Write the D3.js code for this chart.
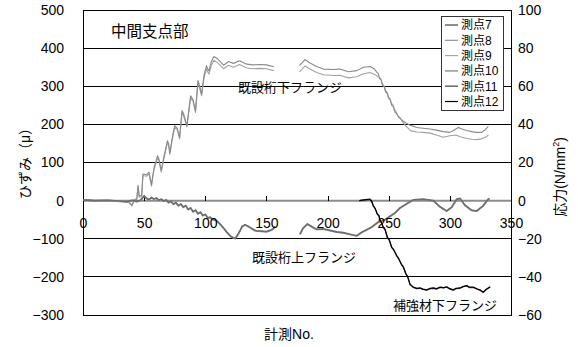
<!DOCTYPE html>
<html>
<head>
<meta charset="utf-8">
<script src="https://cdn.jsdelivr.net/npm/d3@7/dist/d3.min.js"></script>
<style>
  html, body { margin: 0; padding: 0; background: #fff; }
  svg { display: block; font-family: "Liberation Sans", "Noto Sans CJK JP", sans-serif; }
  .domain { display: none; }
</style>
</head>
<body>
<svg id="chart" width="578" height="347"></svg>
<script>
// Measurement number ranges and axis ticks
const xTicks = [0, 50, 100, 150, 200, 250, 300, 350];
const strainTicks = [-300, -200, -100, 0, 100, 200, 300, 400, 500];
const stressTicks = [-60, -40, -20, 0, 20, 40, 60, 80, 100];
const gridValues = [-200, -100, 100, 200, 300, 400];

const seriesNames = ["測点7", "測点8", "測点9", "測点10", "測点11", "測点12"];
const seriesColors = ["#404040", "#8a8a8a", "#a2a2a2", "#9a9a9a", "#6e6e6e", "#000000"];
const seriesWidths = [1.2, 1.1, 1.1, 1.6, 1.6, 1.2];

// strain readings [measurement No., μ]; null splits a gap in the record
const p8 = [[0,3],[8,1],[16,0],[24,-1],[32,0],[37,-2],[40,-12],[42,3],[44,5],[45,40],[46,12],[48,14],[49,70],[52,68],[54,75],[56,42],[58,85],[61,118],[62,110],[64,79],[66,112],[69,157],[70,150],[71,125],[73,165],[75,197],[77,190],[79,166],[81,236],[82,230],[85,197],[87,250],[88,275],[90,265],[92,236],[94,315],[95,305],[97,280],[99,330],[101,354],[102,345],[103,340],[105,365],[107,378],[110,372],[113,362],[115,355],[119,365],[123,360],[128,367],[134,358],[139,356],[145,357],[150,356],[156,351],
  null,
  [177,354],[181.5,370],[185.6,361],[191,352],[196.5,345],[204.7,344],[210,345],[217,338],[223.8,341],[229.3,350],[234.7,352],[238,346],[240.2,337],[241.5,333],[242.5,320],[244,316],[245,302],[246.5,298],[247.5,285],[249,281],[250,268],[251.5,263],[252.5,250],[254,246],[255,233],[256.5,228],[258,220],[260,214],[262,208],[265,202],[267.4,198],[272.9,192],[278,190],[283.8,188],[289,185],[294.6,181],[300,179],[303,184],[306.9,192],[310,188],[313.8,184],[318,181],[322,179],[326,179],[329,186],[331.5,195]];

const p9 = [[0,2],[8,0],[16,-1],[24,0],[32,-1],[37,-3],[40,-14],[42,1],[44,3],[45,36],[46,9],[48,11],[49,66],[52,64],[54,70],[56,38],[58,80],[61,113],[62,106],[64,75],[66,108],[69,152],[70,146],[71,121],[73,160],[75,192],[77,186],[79,162],[81,230],[82,225],[85,193],[87,245],[88,270],[90,260],[92,231],[94,308],[95,299],[97,275],[99,323],[101,346],[102,337],[103,332],[105,356],[107,368],[110,362],[113,352],[115,346],[119,355],[123,350],[128,357],[134,348],[139,346],[145,347],[150,346],[156,341],
  null,
  [177,338],[181.5,353],[185.6,345],[191,336],[196.5,330],[204.7,328],[210,329],[217,322],[223.8,325],[229.3,333],[234.7,336],[239,330],[242,324],[243.5,320],[244.5,307],[246,302],[247,290],[248.5,285],[249.5,273],[251,268],[252,256],[253.5,251],[254.5,239],[256,234],[257.5,222],[259.5,216],[261.5,206],[264,196],[268,183],[273,180],[278,179],[284,177],[289,172],[294.6,166],[300,170],[305,172],[309,167],[313.8,163],[318,161],[322,160],[326,162],[329,166],[331.5,172]];

const p10 = [[0,1],[10,0],[20,1],[30,-2],[36,-4],[40,0],[44,-3],[47,0],[50,12],[52,5],[54,2],[56,9],[58,4],[60,6],[62,0],[64,4],[66,-2],[68,2],[70,-6],[72,-2],[74,-10],[76,-5],[78,-14],[80,-9],[82,-18],[84,-13],[86,-24],[88,-19],[90,-30],[92,-25],[94,-35],[96,-30],[98,-40],[100,-36],[102,-46],[104,-43],[106,-50],[109,-53],[112,-62],[115,-73],[118,-85],[121,-95],[124.3,-100],[126,-93],[128.4,-80],[130,-69],[132.5,-64],[135,-68],[137,-72],[140,-78],[142,-80],[146,-81],[150,-82],[153,-79],[155.6,-75],[157,-69],
  null,
  [177.4,-89],[180,-73],[183.5,-62],[187,-69],[191,-76],[196.5,-75],[202,-79],[207.5,-83],[212.9,-85],[218.3,-89],[223.8,-93],[227.9,-84],[232,-77],[236.1,-70],[241.5,-57],[247,-50],[251,-42],[255.1,-33],[259.2,-20],[264.7,-9],[270.1,1],[278.3,3],[286.5,-1],[292,-17],[297.4,-28],[301.5,-18],[305.6,3],[308.3,5],[312.4,-13],[317.8,-26],[321.9,-28],[327.3,-14],[331.4,3],[332.5,5]];

const p11 = [[0,2],[10,0],[20,1],[30,-1],[36,-3],[40,1],[44,-2],[47,1],[50,13],[52,6],[54,3],[56,8],[58,4],[60,7],[62,1],[64,4],[66,-1],[68,2],[70,-5],[72,-2],[74,-9],[76,-5],[78,-13],[80,-9],[82,-17],[84,-13],[86,-23],[88,-19],[90,-29],[92,-25],[94,-34],[96,-30],[98,-39],[100,-36],[102,-45],[104,-44],[106,-49],[109,-52],[112,-61],[115,-72],[118,-84],[121,-94],[124.3,-99],[126,-92],[128.4,-79],[130,-68],[132.5,-63],[135,-67],[137,-71],[140,-77],[142,-79],[146,-80],[150,-81],[153,-78],[155.6,-74],[157,-68],
  null,
  [177.4,-87],[180,-72],[183.5,-61],[187,-68],[191,-75],[196.5,-74],[202,-78],[207.5,-82],[212.9,-84],[218.3,-88],[223.8,-92],[227.9,-83],[232,-76],[236.1,-69],[241.5,-56],[247,-50],[251,-41],[255.1,-32],[259.2,-19],[264.7,-8],[270.1,2],[278.3,4],[286.5,0],[292,-16],[297.4,-27],[301.5,-17],[305.6,4],[308.3,6],[312.4,-12],[317.8,-25],[321.9,-27],[327.3,-13],[331.4,4],[332.5,6]];

const p7 = [[226,0],[230,2],[234.7,3],[236,-2],[237.4,-14],[239,-22],[240.7,-36],[242,-40],[242.9,-53],[244,-58],[245.6,-71],[247,-76],[248.9,-97],[250.5,-104],[252.4,-123],[254,-129],[256.5,-145],[258,-152],[260.6,-169],[262,-175],[264.1,-193],[265.5,-200],[267.4,-220],[270.1,-228],[273,-231],[275.6,-230],[278,-233],[281,-235],[284,-231],[286.5,-230],[289,-232],[292,-228],[295,-229],[297.4,-227],[300,-232],[302.8,-235],[305,-231],[308.3,-230],[311,-226],[313.8,-224],[316,-228],[319.2,-228],[322,-232],[324.6,-235],[327.3,-241],[329.5,-234],[331.4,-230],[333,-227]];

const p12 = [[226,0],[230,2],[234.7,4],[236,-1],[237.4,-13],[239,-21],[240.7,-35],[242,-39],[242.9,-52],[244,-57],[245.6,-70],[247,-75],[248.9,-96],[250.5,-103],[252.4,-122],[254,-128],[256.5,-144],[258,-151],[260.6,-168],[262,-174],[264.1,-192],[265.5,-199],[267.4,-219],[270.1,-227],[273,-230],[275.6,-229],[278,-232],[281,-234],[284,-230],[286.5,-229],[289,-231],[292,-227],[295,-228],[297.4,-226],[300,-231],[302.8,-234],[305,-230],[308.3,-229],[311,-225],[313.8,-223],[316,-227],[319.2,-227],[322,-231],[324.6,-234],[327.3,-240],[329.5,-233],[331.4,-229],[333,-226]];

const seriesData = [p7, p8, p9, p10, p11, p12];
// drawing order: light lines first, dark on top
const drawOrder = [2, 1, 3, 4, 0, 5];

const svg = d3.select("#chart");
const plot = { left: 83, right: 511, top: 10, bottom: 315 };

const x = d3.scaleLinear().domain([0, 350]).range([plot.left, plot.right]);
const yL = d3.scaleLinear().domain([-300, 500]).range([plot.bottom, plot.top]);
const yR = d3.scaleLinear().domain([-60, 100]).range([plot.bottom, plot.top]);

// horizontal gridlines
svg.append("g").selectAll("line").data(gridValues).join("line")
  .attr("x1", plot.left).attr("x2", plot.right)
  .attr("y1", d => yL(d)).attr("y2", d => yL(d))
  .attr("stroke", "#000").attr("stroke-width", 1).attr("shape-rendering", "crispEdges");

// zero axis line
svg.append("line")
  .attr("x1", plot.left).attr("x2", plot.right)
  .attr("y1", yL(0)).attr("y2", yL(0))
  .attr("stroke", "#8c8c8c").attr("stroke-width", 2);

// tick marks pointing up from the zero line
svg.append("g").attr("transform", `translate(0,${yL(0)})`)
  .call(d3.axisTop(x).tickValues(xTicks.slice(1, -1)).tickSize(5).tickFormat(""))
  .call(g => g.selectAll("line").attr("stroke", "#000").attr("shape-rendering", "crispEdges"));

// plot frame
svg.append("rect")
  .attr("x", plot.left).attr("y", plot.top)
  .attr("width", plot.right - plot.left).attr("height", plot.bottom - plot.top)
  .attr("fill", "none").attr("stroke", "#000").attr("stroke-width", 1)
  .attr("shape-rendering", "crispEdges");

// data lines
const line = d3.line()
  .defined(d => d !== null)
  .x(d => x(d[0])).y(d => yL(d[1]));

const lines = svg.append("g").attr("fill", "none").attr("stroke-linejoin", "round");
drawOrder.forEach(i => {
  lines.append("path")
    .datum(seriesData[i])
    .attr("d", line)
    .attr("stroke", seriesColors[i])
    .attr("stroke-width", seriesWidths[i]);
});

// left axis (strain)
const fmt = d => (d < 0 ? "\u2212" + Math.abs(d) : String(d));
svg.append("g").attr("transform", `translate(${plot.left},0)`)
  .call(d3.axisLeft(yL).tickValues(strainTicks).tickSize(0).tickPadding(19).tickFormat(fmt))
  .call(g => g.selectAll("text").attr("font-size", 14).attr("fill", "#000")
    .attr("font-family", "Liberation Sans, sans-serif"));

// right axis (stress)
svg.append("g").attr("transform", `translate(${plot.right},0)`)
  .call(d3.axisRight(yR).tickValues(stressTicks).tickSize(0).tickPadding(7).tickFormat(fmt))
  .call(g => g.selectAll("text").attr("font-size", 14).attr("fill", "#000")
    .attr("font-family", "Liberation Sans, sans-serif"));

// bottom tick labels sitting just below the zero line
svg.append("g").attr("transform", `translate(0,${yL(0)})`)
  .call(d3.axisBottom(x).tickValues(xTicks).tickSize(0).tickPadding(17))
  .call(g => g.selectAll("text").attr("font-size", 14).attr("fill", "#000")
    .attr("font-family", "Liberation Sans, sans-serif"));

// axis titles
svg.append("text")
  .attr("transform", "translate(30,160) rotate(-90)")
  .attr("text-anchor", "middle").attr("font-size", 14)
  .text("ひずみ（μ）");

const rt = svg.append("text")
  .attr("transform", "translate(565,177) rotate(-90)")
  .attr("text-anchor", "middle").attr("font-size", 14);
rt.append("tspan").text("応力(N/mm");
rt.append("tspan").attr("font-size", 9).attr("dy", -6).text("2");
rt.append("tspan").attr("dy", 6).text(")");

svg.append("text")
  .attr("x", 289).attr("y", 339)
  .attr("text-anchor", "middle").attr("font-size", 14)
  .text("計測No.");

// annotations
const notes = [
  { t: "中間支点部", x: 111, y: 37, s: 15.5, a: "start" },
  { t: "既設桁下フランジ", x: 290, y: 92, s: 13, a: "middle" },
  { t: "既設桁上フランジ", x: 304, y: 262, s: 13, a: "middle" },
  { t: "補強材下フランジ", x: 445, y: 310, s: 13, a: "middle" }
];
svg.append("g").selectAll("text").data(notes).join("text")
  .attr("x", d => d.x).attr("y", d => d.y)
  .attr("text-anchor", d => d.a).attr("font-size", d => d.s)
  .attr("font-family", "Noto Sans CJK JP, sans-serif")
  .text(d => d.t);

// legend
const lg = svg.append("g");
lg.append("rect")
  .attr("x", 441).attr("y", 16).attr("width", 62).attr("height", 94)
  .attr("fill", "#fff").attr("stroke", "#333").attr("stroke-width", 1)
  .attr("shape-rendering", "crispEdges");
const items = lg.selectAll("g.item").data(seriesNames).join("g")
  .attr("class", "item")
  .attr("transform", (d, i) => `translate(0,${25 + i * 15.3})`);
items.append("line")
  .attr("x1", 445).attr("x2", 458).attr("y1", 0).attr("y2", 0)
  .attr("stroke", (d, i) => seriesColors[i]).attr("stroke-width", (d, i) => seriesWidths[i]);
items.append("text")
  .attr("x", 461).attr("y", 0).attr("dy", "0.36em")
  .attr("font-size", 12)
  .text(d => d);
</script>
</body>
</html>
